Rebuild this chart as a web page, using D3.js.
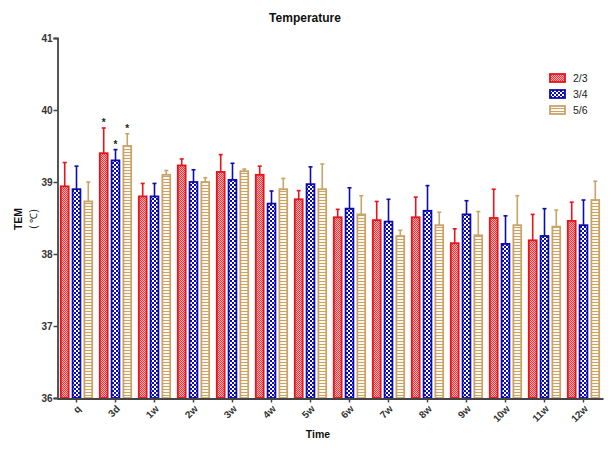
<!DOCTYPE html>
<html><head><meta charset="utf-8">
<script src="https://cdn.jsdelivr.net/npm/d3@7/dist/d3.min.js"></script>
<style>body{margin:0;background:#fff;} svg{display:block;font-family:Arial,"Liberation Sans",sans-serif;}</style>
</head><body><svg id="c" width="611" height="452"></svg>
<script>
const categories = ["q","3d","1w","2w","3w","4w","5w","6w","7w","8w","9w","10w","11w","12w"];
const seriesNames = ["2/3","3/4","5/6"];
const mean23 = [38.94,39.40,38.80,39.23,39.14,39.10,38.76,38.51,38.47,38.51,38.15,38.50,38.19,38.46];
const err23  = [0.33,0.35,0.18,0.09,0.24,0.12,0.12,0.11,0.26,0.28,0.20,0.40,0.36,0.26];
const mean34 = [38.90,39.30,38.80,39.00,39.03,38.70,38.97,38.63,38.45,38.60,38.55,38.14,38.25,38.40];
const err34  = [0.32,0.15,0.18,0.17,0.23,0.175,0.24,0.29,0.31,0.35,0.19,0.39,0.38,0.35];
const mean56 = [38.73,39.50,39.10,39.00,39.15,38.90,38.90,38.55,38.25,38.40,38.26,38.40,38.38,38.75];
const err56  = [0.27,0.17,0.06,0.06,0.03,0.15,0.35,0.26,0.08,0.18,0.33,0.41,0.23,0.26];
const starFlags = [[false,true,false,false,false,false,false,false,false,false,false,false,false,false],
                   [false,true,false,false,false,false,false,false,false,false,false,false,false,false],
                   [false,true,false,false,false,false,false,false,false,false,false,false,false,false]];
const yTicks = [36,37,38,39,40,41];

const means = [mean23, mean34, mean56];
const errs = [err23, err34, err56];
const colors = ["#e8141c","#0c0cae","#c9a46a"];
const pats = ["pRed","pBlue","pTan"];

const svg = d3.select("#c");
const defs = svg.append("defs");
let p = defs.append("pattern").attr("id","pRed").attr("patternUnits","userSpaceOnUse").attr("width",2).attr("height",2);
p.append("rect").attr("width",2).attr("height",2).attr("fill","#f8b0b0");
p.append("rect").attr("width",1).attr("height",1).attr("fill","#ea3a3f");
p.append("rect").attr("x",1).attr("y",1).attr("width",1).attr("height",1).attr("fill","#ea3a3f");
p = defs.append("pattern").attr("id","pBlue").attr("patternUnits","userSpaceOnUse").attr("width",4).attr("height",4);
p.append("rect").attr("width",4).attr("height",4).attr("fill","#0c0cae");
p.append("rect").attr("width",2).attr("height",2).attr("fill","#ffffff");
p.append("rect").attr("x",2).attr("y",2).attr("width",2).attr("height",2).attr("fill","#ffffff");
p = defs.append("pattern").attr("id","pTan").attr("patternUnits","userSpaceOnUse").attr("width",3).attr("height",3);
p.append("rect").attr("width",3).attr("height",3).attr("fill","#fdf8ee");
p.append("rect").attr("y",2).attr("width",3).attr("height",1).attr("fill","#c9a46a");

const y = d3.scaleLinear().domain([36,41]).range([398,38]);
const x = d3.scaleBand().domain(categories).range([57,603]).paddingInner(0).paddingOuter(0);
const xs = d3.scaleBand().domain([0,1,2]).range([x.bandwidth()/2-16.5, x.bandwidth()/2+16.5]).paddingInner(0.2);

const g = svg.append("g");
means.forEach((m, s) => {
  const gg = g.append("g");
  categories.forEach((c, i) => {
    const bx = x(c) + xs(s), bw = xs.bandwidth();
    const top = y(m[i]), et = y(m[i] + errs[s][i]);
    const cx = bx + bw/2;
    gg.append("line").attr("x1",cx).attr("x2",cx).attr("y1",top).attr("y2",et).attr("stroke",colors[s]).attr("stroke-width",1.6);
    gg.append("line").attr("x1",cx-2).attr("x2",cx+2).attr("y1",et).attr("y2",et).attr("stroke",colors[s]).attr("stroke-width",1.6);
    gg.append("rect").attr("x",bx+0.8).attr("y",top).attr("width",bw-1.6).attr("height",y(36)-top)
      .attr("fill","url(#"+pats[s]+")").attr("stroke",colors[s]).attr("stroke-width",1.8);
    if (starFlags[s][i]) {
      gg.append("text").attr("x",cx).attr("y",et-2).attr("text-anchor","middle").attr("font-size",10).attr("font-weight","bold").attr("fill","#222").text("*");
    }
  });
});

const ya = svg.append("g").attr("transform","translate(57.5,0)")
  .call(d3.axisLeft(y).tickValues(yTicks).tickSize(4).tickFormat(d3.format("d")));
ya.select(".domain").attr("stroke","#444").attr("stroke-width",1.8);
ya.selectAll(".tick line").attr("stroke","#444").attr("stroke-width",1.5);
ya.selectAll(".tick text").attr("font-size",10).attr("font-weight","bold").attr("fill","#333").attr("x",-5);

const xa = svg.append("g").attr("transform","translate(0,398.5)")
  .call(d3.axisBottom(x).tickSize(4).tickSizeOuter(0));
xa.select(".domain").attr("stroke","#444").attr("stroke-width",1.8);
xa.selectAll(".tick line").attr("stroke","#444").attr("stroke-width",1.5);
xa.selectAll(".tick text").attr("font-size",10).attr("font-weight","bold").attr("fill","#333")
  .attr("text-anchor","end").attr("dy","0").attr("y",0).attr("transform","translate(5,11) rotate(-45)");

svg.append("text").attr("x",305).attr("y",22).attr("text-anchor","middle").attr("font-size",12).attr("font-weight","bold").attr("fill","#111").text("Temperature");
svg.append("text").attr("x",318).attr("y",438).attr("text-anchor","middle").attr("font-size",10.5).attr("font-weight","bold").attr("fill","#111").text("Time");
svg.append("text").attr("transform","translate(22,219) rotate(-90)").attr("text-anchor","middle").attr("font-size",10.5).attr("font-weight","bold").attr("fill","#111").text("TEM");
svg.append("text").attr("transform","translate(37,219) rotate(-90)").attr("text-anchor","middle").attr("font-size",10).attr("fill","#222").text("( ℃)");

const lg = svg.append("g").attr("transform","translate(550,74)");
seriesNames.forEach((n, s) => {
  const r = lg.append("g").attr("transform","translate(0,"+(s*16)+")");
  r.append("rect").attr("x",0).attr("y",0).attr("width",15).attr("height",8).attr("fill","url(#"+pats[s]+")").attr("stroke",colors[s]).attr("stroke-width",1.8);
  r.append("text").attr("x",23).attr("y",8).attr("font-size",10.5).attr("fill","#222").text(n);
});
</script></body></html>
